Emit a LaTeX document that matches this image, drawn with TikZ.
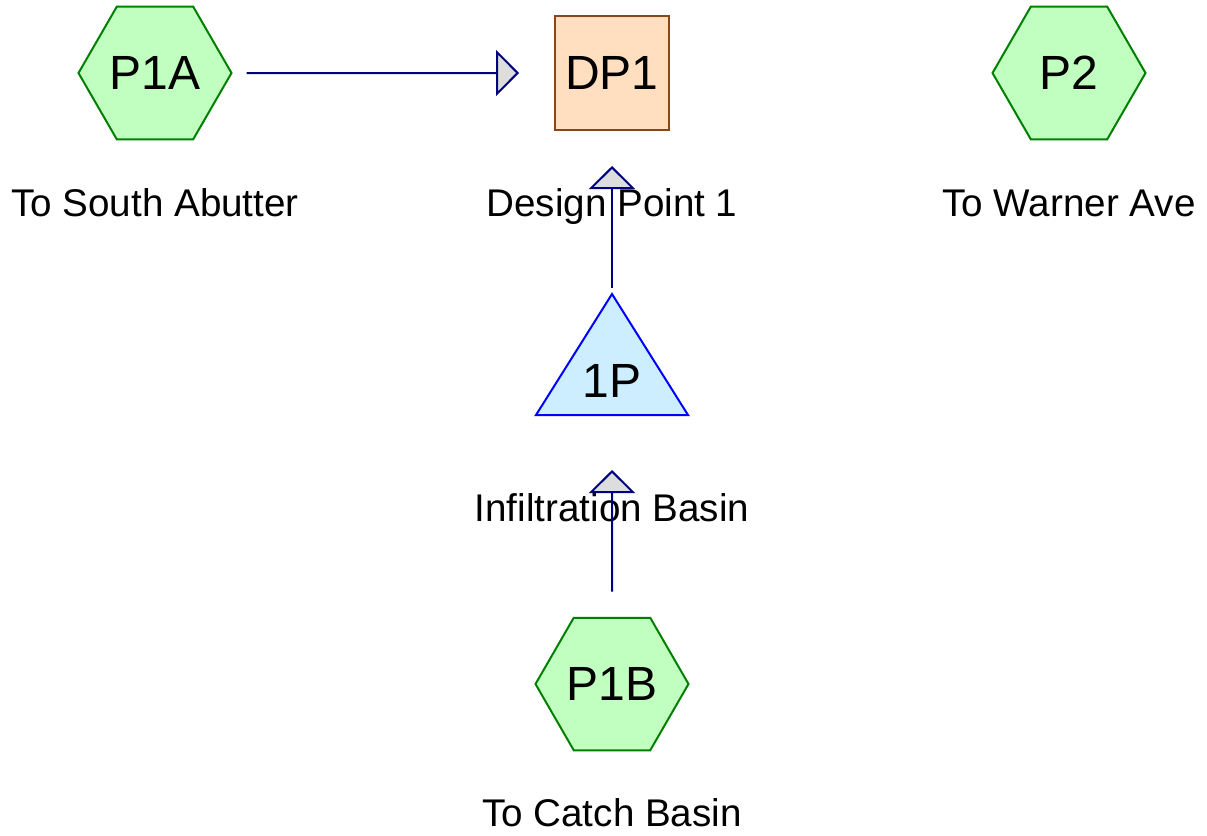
\documentclass[tikz,border=0pt]{standalone}
\usepackage{fontspec}
\setmainfont{Liberation Sans}
\usepackage{tikz}
\usetikzlibrary{shapes.geometric,arrows.meta}
\definecolor{hexfill}{HTML}{C0FFC0}
\definecolor{hexline}{HTML}{008000}
\definecolor{dpfill}{HTML}{FFDFBF}
\definecolor{dpline}{HTML}{8B4513}
\definecolor{pondfill}{HTML}{CCEEFF}
\definecolor{pondline}{HTML}{0000FF}
\definecolor{linkcol}{HTML}{000080}
\definecolor{tipfill}{HTML}{DDDDDD}
\tikzset{
  subcat/.style={regular polygon,regular polygon sides=6,minimum size=153pt,inner sep=0pt,
    fill=hexfill,draw=hexline,line width=2pt,font=\fontsize{48}{50}\selectfont},
  reach/.style={rectangle,minimum size=114pt,inner sep=0pt,fill=dpfill,draw=dpline,
    line width=2pt,font=\fontsize{48}{50}\selectfont},
  caption/.style={anchor=base,font=\fontsize{38.6}{40}\selectfont},
  link/.style={draw=linkcol,line width=2pt,
    -{Triangle[length=23pt,width=46pt,fill=tipfill,line width=2pt]}}
}

\begin{document}
\begin{tikzpicture}[x=1pt,y=-1pt]
  \useasboundingbox (0,0) rectangle (1207,835);
  \node[subcat] (p1a) at (155,73) {\raisebox{-2pt}{P1A}};
  \node[reach] (dp1) at (612,73) {\raisebox{-2pt}{DP1}};
  \node[subcat] (p2) at (1069,73) {\raisebox{-2pt}{P2}};
  \node[subcat] (p1b) at (612,684) {\raisebox{-2pt}{P1B}};
  \coordinate (pondtop) at (612,294);
  \coordinate (pondbase) at (612,415);
  \draw[pondline,fill=pondfill,line width=2pt] (pondtop) -- (688,415) -- (536,415) -- cycle;
  \node[font=\fontsize{48}{50}\selectfont] (pond) at (612,381) {1P};

  \node[caption] (capp1a) at (155,216) {To South Abutter};
  \node[caption] (capdp1) at (612,216) {Design Point 1};
  \node[caption] (capp2) at (1069,216) {To Warner Ave};
  \node[caption] (cappond) at (612,521) {Infiltration Basin};
  \node[caption] (capp1b) at (612,826) {To Catch Basin};

  \draw[link,shorten <=14pt,shorten >=35pt] (p1a.east) -- (dp1.west);
  \draw[link,shorten <=6pt,shorten >=35pt] (pondtop) -- (dp1.south);
  \draw[link,shorten <=25pt,shorten >=55pt] (p1b.north) -- (pondbase);
\end{tikzpicture}
\end{document}
